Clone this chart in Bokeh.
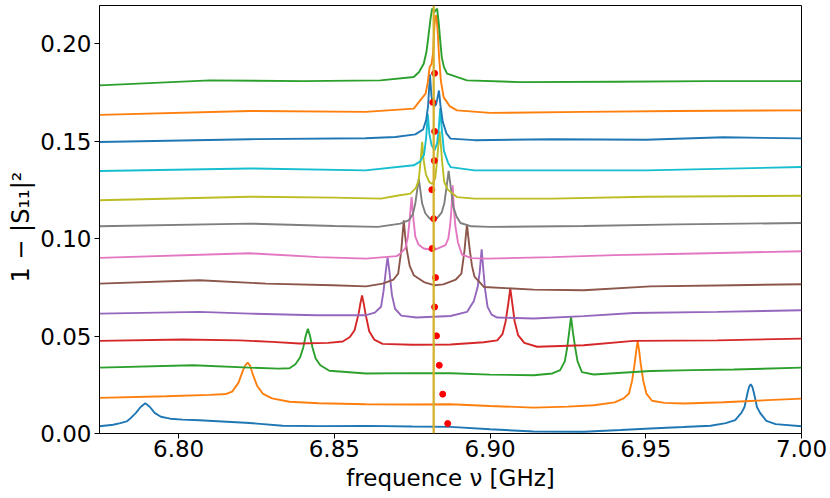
from bokeh.plotting import figure
from bokeh.models import Span, FixedTicker, PrintfTickFormatter, Range1d
from bokeh.embed import file_html
from bokeh.resources import INLINE

# ---- data (frequency in GHz, 1-|S11|^2) ----
f0 = [6.7746, 6.7790, 6.7813, 6.7833, 6.7843, 6.7863, 6.7878, 6.7893, 6.7908, 6.7923, 6.7943, 6.7973, 6.8013,
      6.8067, 6.8228, 6.8334, 6.8450, 6.8602, 6.8750, 6.8873, 6.9000, 6.9140, 6.9301, 6.9420, 6.9515, 6.9620,
      6.9708, 6.9757, 6.9787, 6.9807, 6.9817, 6.9827, 6.9832, 6.9837, 6.9842, 6.9847, 6.9857, 6.9867, 6.9887,
      6.9917, 7.0000]
s0 = [0.0037, 0.0045, 0.0053, 0.0062, 0.0074, 0.0106, 0.0136, 0.0155, 0.0136, 0.0106, 0.0086, 0.0076, 0.0071,
      0.0068, 0.0054, 0.0040, 0.0038, 0.0039, 0.0036, 0.0034, 0.0022, 0.0010, 0.0009, 0.0018, 0.0026, 0.0033,
      0.0040, 0.0053, 0.0069, 0.0106, 0.0136, 0.0210, 0.0240, 0.0253, 0.0240, 0.0210, 0.0136, 0.0106, 0.0065,
      0.0048, 0.0037]

f1 = [6.7746, 6.7960, 6.8100, 6.8153, 6.8172, 6.8192, 6.8207, 6.8215, 6.8222, 6.8229, 6.8238, 6.8252, 6.8270,
      6.8300, 6.8356, 6.8450, 6.8602, 6.8750, 6.8873, 6.9000, 6.9140, 6.9250, 6.9333, 6.9400, 6.9429, 6.9446,
      6.9456, 6.9464, 6.9469, 6.9474, 6.9479, 6.9484, 6.9492, 6.9502, 6.9520, 6.9560, 6.9622, 6.9750, 6.9836,
      7.0000]
s1 = [0.0183, 0.0191, 0.0198, 0.0203, 0.0215, 0.0260, 0.0325, 0.0352, 0.0364, 0.0350, 0.0305, 0.0245, 0.0205,
      0.0180, 0.0163, 0.0155, 0.0150, 0.0149, 0.0150, 0.0141, 0.0133, 0.0138, 0.0145, 0.0160, 0.0180, 0.0205,
      0.0270, 0.0355, 0.0420, 0.0475, 0.0420, 0.0355, 0.0270, 0.0205, 0.0168, 0.0157, 0.0154, 0.0160, 0.0167,
      0.0179]

f2 = [6.7746, 6.8046, 6.8228, 6.8320, 6.8356, 6.8375, 6.8390, 6.8400, 6.8408, 6.8415, 6.8422, 6.8430, 6.8440,
      6.8455, 6.8484, 6.8602, 6.8750, 6.8873, 6.9000, 6.9140, 6.9200, 6.9225, 6.9240, 6.9248, 6.9254, 6.9260,
      6.9266, 6.9273, 6.9281, 6.9295, 6.9333, 6.9515, 6.9650, 6.9783, 7.0000]
s2 = [0.0338, 0.0350, 0.0338, 0.0333, 0.0335, 0.0355, 0.0390, 0.0440, 0.0500, 0.0538, 0.0500, 0.0440, 0.0385,
      0.0350, 0.0322, 0.0308, 0.0310, 0.0309, 0.0302, 0.0299, 0.0308, 0.0325, 0.0370, 0.0444, 0.0520, 0.0598,
      0.0520, 0.0444, 0.0370, 0.0315, 0.0303, 0.0321, 0.0325, 0.0328, 0.0338]

f3 = [6.7746, 6.8013, 6.8195, 6.8300, 6.8388, 6.8480, 6.8527, 6.8550, 6.8565, 6.8578, 6.8584, 6.8589, 6.8594,
      6.8600, 6.8612, 6.8628, 6.8655, 6.8750, 6.8873, 6.8980, 6.9023, 6.9040, 6.9050, 6.9058, 6.9065, 6.9072,
      6.9079, 6.9090, 6.9110, 6.9151, 6.9301, 6.9461, 6.9729, 7.0000]
s3 = [0.0475, 0.0482, 0.0478, 0.0470, 0.0462, 0.0465, 0.0472, 0.0495, 0.0530, 0.0615, 0.0670, 0.0709, 0.0670,
      0.0615, 0.0525, 0.0482, 0.0460, 0.0455, 0.0457, 0.0468, 0.0478, 0.0510, 0.0575, 0.0660, 0.0744, 0.0660,
      0.0575, 0.0505, 0.0465, 0.0445, 0.0453, 0.0475, 0.0478, 0.0487]

f4 = [6.7746, 6.8067, 6.8228, 6.8441, 6.8602, 6.8630, 6.8650, 6.8658, 6.8665, 6.8671, 6.8677, 6.8685, 6.8695,
      6.8715, 6.8763, 6.8873, 6.8926, 6.8948, 6.8960, 6.8967, 6.8973, 6.8979, 6.8984, 6.8992, 6.9005, 6.9023,
      6.9140, 6.9301, 6.9461, 6.9729, 7.0000]
s4 = [0.0615, 0.0624, 0.0615, 0.0607, 0.0607, 0.0620, 0.0650, 0.0730, 0.0830, 0.0904, 0.0830, 0.0710, 0.0640,
      0.0605, 0.0595, 0.0603, 0.0624, 0.0680, 0.0750, 0.0830, 0.0945, 0.0830, 0.0740, 0.0650, 0.0610, 0.0595,
      0.0590, 0.0602, 0.0618, 0.0624, 0.0632]

f5 = [6.7746, 6.8067, 6.8281, 6.8495, 6.8602, 6.8655, 6.8690, 6.8705, 6.8715, 6.8719, 6.8723, 6.8727, 6.8733,
      6.8742, 6.8755, 6.8790, 6.8820, 6.8850, 6.8890, 6.8908, 6.8918, 6.8922, 6.8926, 6.8930, 6.8935, 6.8942,
      6.8950, 6.8970, 6.8980, 6.9140, 6.9301, 6.9515, 6.9783, 7.0000]
s5 = [0.0769, 0.0786, 0.0769, 0.0761, 0.0755, 0.0769, 0.0790, 0.0820, 0.0940, 0.1020, 0.1094, 0.1020, 0.0940,
      0.0860, 0.0812, 0.0775, 0.0761, 0.0765, 0.0790, 0.0820, 0.0940, 0.1010, 0.1073, 0.1010, 0.0940, 0.0860,
      0.0805, 0.0770, 0.0752, 0.0738, 0.0735, 0.0755, 0.0761, 0.0766]

f6 = [6.7746, 6.8228, 6.8450, 6.8602, 6.8700, 6.8712, 6.8728, 6.8736, 6.8742, 6.8748, 6.8754, 6.8760, 6.8770,
      6.8787, 6.8818, 6.8857, 6.8866, 6.8872, 6.8876, 6.8880, 6.8884, 6.8889, 6.8897, 6.8910, 6.8940, 6.8990,
      6.9200, 6.9400, 6.9700, 7.0000]
s6 = [0.0901, 0.0925, 0.0905, 0.0897, 0.0910, 0.0923, 0.0950, 0.1005, 0.1100, 0.1213, 0.1100, 0.1010, 0.0970,
      0.0949, 0.0940, 0.0966, 0.1000, 0.1070, 0.1150, 0.1273, 0.1150, 0.1060, 0.0980, 0.0918, 0.0900, 0.0897,
      0.0905, 0.0915, 0.0925, 0.0935]

f7 = [6.7746, 6.8228, 6.8500, 6.8640, 6.8712, 6.8740, 6.8752, 6.8760, 6.8766, 6.8771, 6.8776, 6.8782, 6.8792,
      6.8805, 6.8815, 6.8830, 6.8845, 6.8853, 6.8860, 6.8867, 6.8874, 6.8882, 6.8892, 6.8905, 6.8940, 6.9000,
      6.9300, 6.9600, 7.0000]
s7 = [0.1063, 0.1077, 0.1065, 0.1060, 0.1077, 0.1095, 0.1125, 0.1180, 0.1250, 0.1308, 0.1250, 0.1180, 0.1130,
      0.1105, 0.1094, 0.1105, 0.1135, 0.1180, 0.1260, 0.1347, 0.1260, 0.1165, 0.1115, 0.1080, 0.1063, 0.1060,
      0.1065, 0.1073, 0.1080]

f8 = [6.7746, 6.8228, 6.8500, 6.8650, 6.8700, 6.8744, 6.8762, 6.8771, 6.8777, 6.8782, 6.8787, 6.8794, 6.8805,
      6.8815, 6.8824, 6.8830, 6.8834, 6.8838, 6.8842, 6.8847, 6.8853, 6.8865, 6.8894, 6.8950, 6.9200, 6.9500,
      7.0000]
s8 = [0.1197, 0.1215, 0.1210, 0.1205, 0.1220, 0.1231, 0.1260, 0.1300, 0.1400, 0.1496, 0.1400, 0.1330, 0.1290,
      0.1280, 0.1310, 0.1400, 0.1480, 0.1550, 0.1480, 0.1380, 0.1290, 0.1250, 0.1213, 0.1205, 0.1205, 0.1215,
      0.1220]

f9 = [6.7746, 6.8228, 6.8600, 6.8755, 6.8775, 6.8788, 6.8795, 6.8800, 6.8805, 6.8812, 6.8822, 6.8830, 6.8835,
      6.8840, 6.8845, 6.8852, 6.8865, 6.8873, 6.8950, 6.9200, 6.9500, 7.0000]
s9 = [0.1347, 0.1360, 0.1350, 0.1376, 0.1395, 0.1430, 0.1520, 0.1640, 0.1540, 0.1480, 0.1453, 0.1490, 0.1560,
      0.1670, 0.1560, 0.1450, 0.1390, 0.1367, 0.1350, 0.1350, 0.1350, 0.1367]

f10 = [6.7746, 6.8228, 6.8600, 6.8696, 6.8760, 6.8785, 6.8795, 6.8801, 6.8807, 6.8812, 6.8817, 6.8822, 6.8827,
       6.8831, 6.8836, 6.8841, 6.8848, 6.8860, 6.8873, 6.8950, 6.9200, 6.9500, 6.9750, 7.0000]
s10 = [0.1496, 0.1510, 0.1515, 0.1521, 0.1535, 0.1560, 0.1610, 0.1680, 0.1843, 0.1730, 0.1690, 0.1680, 0.1690,
       0.1720, 0.1760, 0.1680, 0.1600, 0.1540, 0.1513, 0.1505, 0.1510, 0.1507, 0.1520, 0.1514]

f11 = [6.7746, 6.8228, 6.8600, 6.8755, 6.8793, 6.8800, 6.8806, 6.8812, 6.8817, 6.8821, 6.8824, 6.8828, 6.8832,
       6.8836, 6.8842, 6.8851, 6.8870, 6.8894, 6.9000, 6.9300, 6.9600, 7.0000]
s11 = [0.1635, 0.1655, 0.1650, 0.1667, 0.1744, 0.1800, 0.1880, 0.1895, 0.1950, 0.2080, 0.2140, 0.2145, 0.2060,
       0.1940, 0.1810, 0.1726, 0.1680, 0.1658, 0.1645, 0.1650, 0.1655, 0.1658]

f12 = [6.7746, 6.8100, 6.8400, 6.8648, 6.8755, 6.8772, 6.8787, 6.8796, 6.8803, 6.8809, 6.8814, 6.8821, 6.8830,
       6.8835, 6.8840, 6.8845, 6.8852, 6.8862, 6.8926, 6.9098, 6.9400, 6.9700, 7.0000]
s12 = [0.1786, 0.1812, 0.1808, 0.1812, 0.1829, 0.1855, 0.1897, 0.1960, 0.2051, 0.2130, 0.2180, 0.2162, 0.2180,
       0.2110, 0.2017, 0.1930, 0.1880, 0.1846, 0.1812, 0.1803, 0.1805, 0.1808, 0.1808]

dot_freq = [6.8864, 6.8848, 6.8837, 6.8828, 6.8822, 6.8825, 6.8814, 6.8819, 6.8813, 6.8821, 6.8822, 6.8816, 6.8822]
dot_val = [0.0051, 0.0202, 0.0350, 0.0501, 0.0649, 0.0800, 0.0949, 0.1102, 0.1251, 0.1400, 0.1550, 0.1699, 0.1848]
center_freq = 6.8819

x_ticks = [6.80, 6.85, 6.90, 6.95, 7.00]
y_ticks = [0.00, 0.05, 0.10, 0.15, 0.20]

colors = ["#1f77b4", "#ff7f0e", "#2ca02c", "#d62728", "#9467bd", "#8c564b", "#e377c2",
          "#7f7f7f", "#bcbd22", "#17becf", "#1f77b4", "#ff7f0e", "#2ca02c"]
freqs = [f0, f1, f2, f3, f4, f5, f6, f7, f8, f9, f10, f11, f12]
vals = [s0, s1, s2, s3, s4, s5, s6, s7, s8, s9, s10, s11, s12]

FONT = "DejaVu Sans"

p = figure(frame_width=702, frame_height=428,
           x_range=Range1d(6.7746, 7.0), y_range=Range1d(0.0, 0.2196),
           output_backend="svg", toolbar_location=None,
           min_border_left=99, min_border_top=5, min_border_right=29, min_border_bottom=10)

for fx, sv, c in zip(freqs, vals, colors):
    p.line(fx, sv, line_color=c, line_width=1.9)

p.add_layout(Span(location=center_freq, dimension="height", line_color="#d4b02c", line_width=2.3))
p.scatter(dot_freq, dot_val, size=6, fill_color="#ff0000", line_color="#ff0000")

p.grid.visible = False
p.background_fill_color = "white"
p.border_fill_color = "white"
p.outline_line_color = "black"
p.outline_line_width = 1
p.outline_line_alpha = 1

p.xaxis.ticker = FixedTicker(ticks=x_ticks)
p.yaxis.ticker = FixedTicker(ticks=y_ticks)
p.xaxis.formatter = PrintfTickFormatter(format="%.2f")
p.yaxis.formatter = PrintfTickFormatter(format="%.2f")

for ax in (p.xaxis, p.yaxis):
    ax.axis_line_color = "black"
    ax.axis_line_width = 1
    ax.major_tick_line_color = "black"
    ax.major_tick_line_width = 1
    ax.major_tick_out = 5
    ax.major_tick_in = 0
    ax.minor_tick_out = 0
    ax.minor_tick_in = 0
    ax.major_label_text_font = FONT
    ax.major_label_text_font_size = "23px"
    ax.major_label_text_color = "black"
    ax.axis_label_text_font = FONT
    ax.axis_label_text_font_size = "23px"
    ax.axis_label_text_font_style = "normal"
    ax.axis_label_text_color = "black"

p.yaxis.axis_label_text_font_size = "24px"
p.xaxis.axis_label = "frequence ν [GHz]"
p.yaxis.axis_label = "1  −  |S₁₁|²"
p.xaxis.major_label_standoff = 1
p.yaxis.major_label_standoff = 3
p.xaxis.axis_label_standoff = 5
p.yaxis.axis_label_standoff = 2

open("out.html", "w").write(file_html(p, INLINE))
